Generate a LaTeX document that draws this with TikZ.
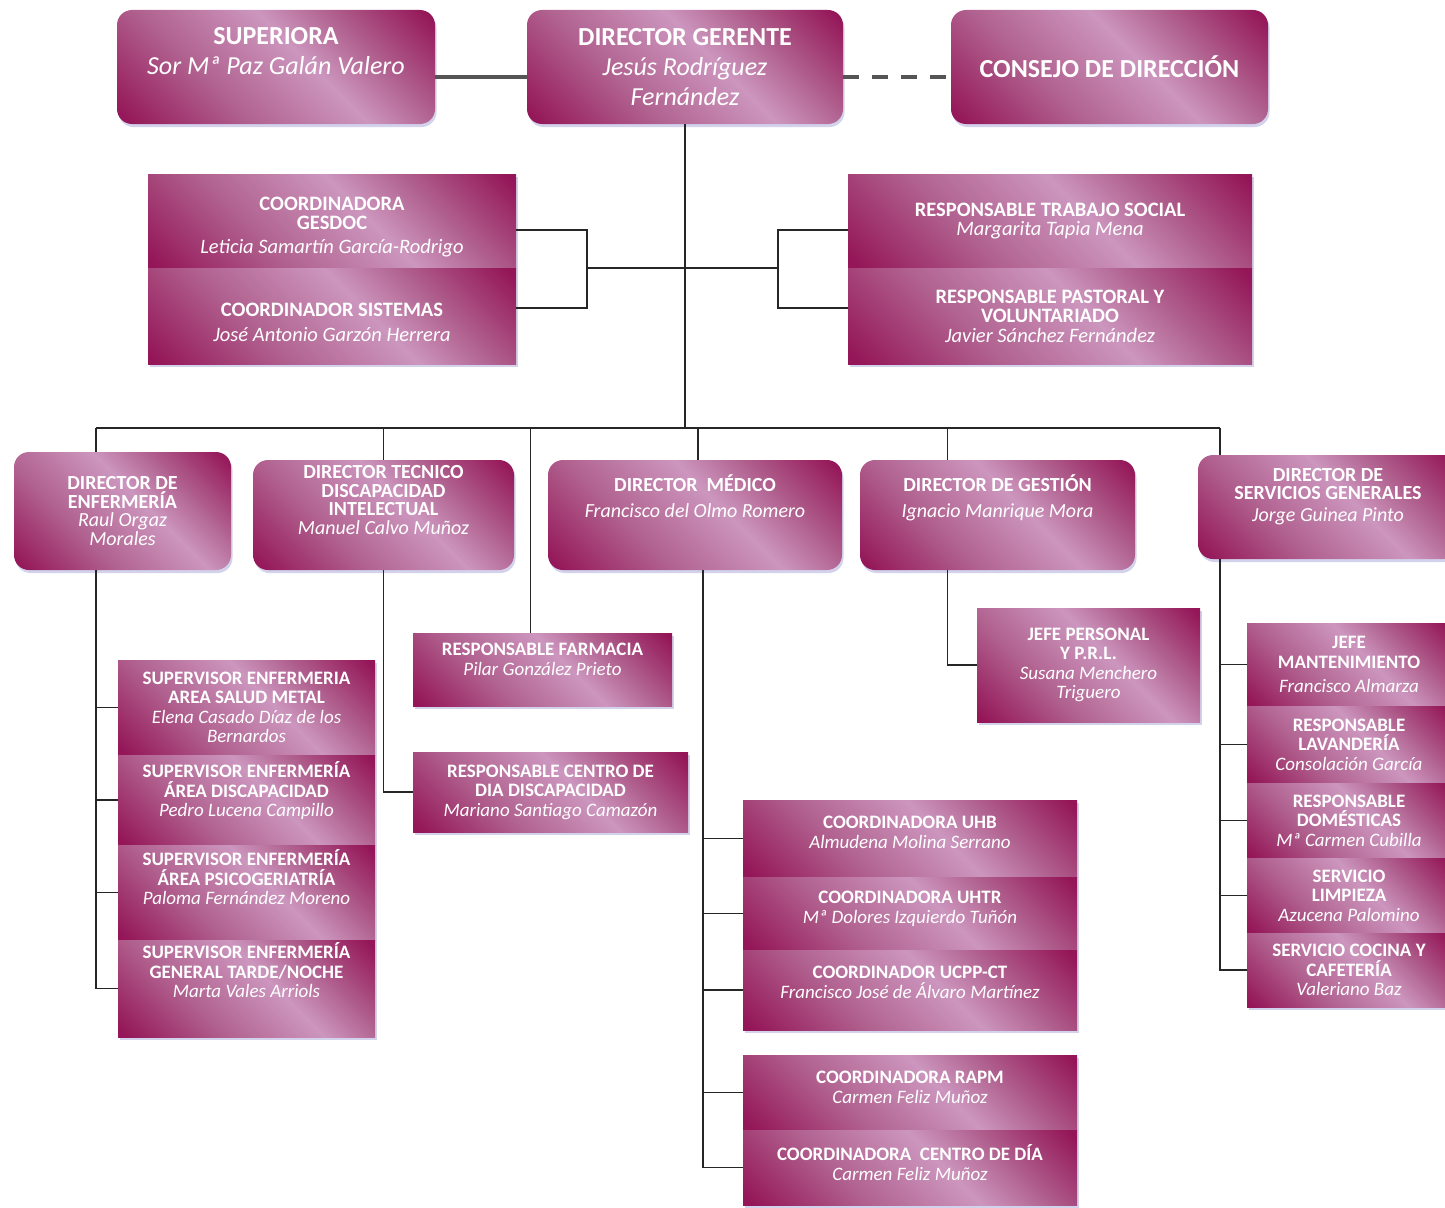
\documentclass[tikz,border=0pt]{standalone}
\usepackage{fontspec}
\setmainfont{Carlito}
\usepackage{tikz}
\usetikzlibrary{positioning,shadows,shapes,fit}

\definecolor{plumdark}{RGB}{148,22,88}
\definecolor{plummid}{RGB}{176,96,142}
\definecolor{plumlight}{RGB}{204,150,190}
\definecolor{linegray}{RGB}{85,85,85}

\pgfdeclareverticalshading{plumglow}{100bp}{color(0bp)=(plumdark); color(16bp)=(plumdark); color(36bp)=(plummid); color(56bp)=(plumlight); color(68bp)=(plummid); color(84bp)=(plumdark); color(100bp)=(plumdark)}

\tikzset {
    style A/.style={
        shade,
        shading=plumglow,
        shading angle=-45,
        drop shadow={shadow xshift=1.5pt, shadow yshift=-3pt, fill=black!40!blue!35, opacity=.5},
        text=white,
        rectangle, % Set the shape as a rectangle
        rounded corners=15pt,
        inner sep=0pt,
        align=center,
        font=\fontsize{26}{30}\selectfont,
    },
    style B/.style={
        shade,
        shading=plumglow,
        shading angle=-45,
        drop shadow={shadow xshift=1.5pt, shadow yshift=-3pt, fill=black!40!blue!35, opacity=.5},
        text=white,
        rectangle, % Set the shape as a rectangle
        inner sep=0pt,
        align=center,
        font=\fontsize{20.5}{19.5}\selectfont,
    },
    style C/.style={
        style A,
        font=\fontsize{20}{18.5}\selectfont,
    },
    style D/.style={
        style B,
        font=\fontsize{19}{19.5}\selectfont,
    },
    link/.style={draw=black!85, line width=1.6pt},
    top link/.style={draw=linegray, line width=3.5pt},
}

\begin{document}
\begin{tikzpicture}[x=1pt, y=-1pt]
    \useasboundingbox (0,0) rectangle (1445,1207);

    % top row
    \node[style A, minimum width=318, minimum height=114, text depth=33pt] (sup) at (276,67)
        {\textbf{SUPERIORA}\\ \textit{Sor Mª Paz Galán Valero}};
    \node[style A, minimum width=316, minimum height=114] (dg) at (685,67)
        {\textbf{DIRECTOR GERENTE}\\ \textit{Jesús Rodríguez}\\ \textit{Fernández}};
    \node[style A, minimum width=317, minimum height=114] (cons) at (1109.5,67)
        {\textbf{CONSEJO DE DIRECCIÓN}};

    % staff
    \node[style B, minimum width=368, minimum height=94, text height=64pt, text depth=0pt] (gesdoc) at (332,221)
        {\textbf{COORDINADORA}\\ \textbf{GESDOC}\\[4pt] \textit{Leticia Samartín García-Rodrigo}};
    \node[style B, minimum width=368, minimum height=96, text height=50pt, text depth=0pt] (sist) at (332,316)
        {\textbf{COORDINADOR SISTEMAS}\\[5pt] \textit{José Antonio Garzón Herrera}};
    \node[style B, minimum width=404, minimum height=94] (tsoc) at (1050,221)
        {\textbf{RESPONSABLE TRABAJO SOCIAL}\\ \textit{Margarita Tapia Mena}};
    \node[style B, minimum width=404, minimum height=96] (past) at (1050,316)
        {\textbf{RESPONSABLE PASTORAL Y}\\ \textbf{VOLUNTARIADO}\\ \textit{Javier Sánchez Fernández}};

    % directors
    \node[style C, minimum width=217, minimum height=118] (denf) at (122.5,511)
        {\textbf{DIRECTOR DE}\\ \textbf{ENFERMERÍA}\\ \textit{Raul Orgaz}\\ \textit{Morales}};
    \node[style C, minimum width=261, minimum height=110, text depth=30pt] (dtec) at (383.5,515)
        {\textbf{DIRECTOR TECNICO}\\ \textbf{DISCAPACIDAD}\\ \textbf{INTELECTUAL}\\ \textit{Manuel Calvo Muñoz}};
    \node[style C, minimum width=294, minimum height=110, text depth=38pt] (dmed) at (695,515)
        {\textbf{DIRECTOR\ \ MÉDICO}\\[8pt] \textit{Francisco del Olmo Romero}};
    \node[style C, minimum width=275, minimum height=110, text depth=38pt] (dges) at (997.5,515)
        {\textbf{DIRECTOR DE GESTIÓN}\\[8pt] \textit{Ignacio Manrique Mora}};
    \node[style C, minimum width=260, minimum height=104, text depth=25pt] (dsg) at (1328,507)
        {\textbf{DIRECTOR DE}\\ \textbf{SERVICIOS GENERALES}\\[3pt] \textit{Jorge Guinea Pinto}};

    % nursing
    \node[style D, minimum width=257, minimum height=95] (se1) at (246.5,707.5)
        {\textbf{SUPERVISOR ENFERMERIA}\\ \textbf{AREA SALUD METAL}\\ \textit{Elena Casado Díaz de los}\\ \textit{Bernardos}};
    \node[style D, minimum width=257, minimum height=90, text depth=21pt] (se2) at (246.5,800)
        {\textbf{SUPERVISOR ENFERMERÍA}\\ \textbf{ÁREA DISCAPACIDAD}\\ \textit{Pedro Lucena Campillo}};
    \node[style D, minimum width=257, minimum height=95, text depth=30pt] (se3) at (246.5,892.5)
        {\textbf{SUPERVISOR ENFERMERÍA}\\ \textbf{ÁREA PSICOGERIATRÍA}\\ \textit{Paloma Fernández Moreno}};
    \node[style D, minimum width=257, minimum height=97, text depth=36pt] (se4) at (246.5,988.5)
        {\textbf{SUPERVISOR ENFERMERÍA}\\ \textbf{GENERAL TARDE/NOCHE}\\ \textit{Marta Vales Arriols}};

    % disability / pharmacy
    \node[style D, minimum width=259, minimum height=73, text depth=20pt] (farm) at (542.5,669.5)
        {\textbf{RESPONSABLE FARMACIA}\\ \textit{Pilar González Prieto}};
    \node[style D, minimum width=275, minimum height=80] (cdisc) at (550.5,792)
        {\textbf{RESPONSABLE CENTRO DE}\\ \textbf{DIA DISCAPACIDAD}\\ \textit{Mariano Santiago Camazón}};

    % medical
    \node[style D, minimum width=334, minimum height=77, text depth=12pt] (uhb) at (910,838.5)
        {\textbf{COORDINADORA UHB}\\ \textit{Almudena Molina Serrano}};
    \node[style D, minimum width=334, minimum height=73, text depth=12pt] (uhtr) at (910,913.5)
        {\textbf{COORDINADORA UHTR}\\ \textit{Mª Dolores Izquierdo Tuñón}};
    \node[style D, minimum width=334, minimum height=80, text depth=15pt] (ucpp) at (910,990)
        {\textbf{COORDINADOR UCPP-CT}\\ \textit{Francisco José de Álvaro Martínez}};
    \node[style D, minimum width=334, minimum height=75, text depth=10pt] (rapm) at (910,1092.5)
        {\textbf{COORDINADORA RAPM}\\ \textit{Carmen Feliz Muñoz}};
    \node[style D, minimum width=334, minimum height=75, text depth=10pt] (cdia) at (910,1167.5)
        {\textbf{COORDINADORA\ \ CENTRO DE DÍA}\\ \textit{Carmen Feliz Muñoz}};

    % management
    \node[style D, minimum width=223, minimum height=114] (jper) at (1088.5,665)
        {\textbf{JEFE PERSONAL}\\ \textbf{Y P.R.L.}\\ \textit{Susana Menchero}\\ \textit{Triguero}};

    % general services
    \node[style D, minimum width=204, minimum height=83] (mant) at (1349,664.5)
        {\textbf{JEFE}\\ \textbf{MANTENIMIENTO}\\[5pt] \textit{Francisco Almarza}};
    \node[style D, minimum width=204, minimum height=77] (lav) at (1349,744.5)
        {\textbf{RESPONSABLE}\\ \textbf{LAVANDERÍA}\\ \textit{Consolación García}};
    \node[style D, minimum width=204, minimum height=75] (dom) at (1349,820.5)
        {\textbf{RESPONSABLE}\\ \textbf{DOMÉSTICAS}\\ \textit{Mª Carmen Cubilla}};
    \node[style D, minimum width=204, minimum height=75] (limp) at (1349,895.5)
        {\textbf{SERVICIO}\\ \textbf{LIMPIEZA}\\ \textit{Azucena Palomino}};
    \node[style D, minimum width=204, minimum height=74] (coc) at (1349,970)
        {\textbf{SERVICIO COCINA Y}\\ \textbf{CAFETERÍA}\\ \textit{Valeriano Baz}};

    % junctions
    \coordinate (lj) at (587,268);
    \coordinate (rj) at (778,268);
    \coordinate (busl) at (96,428);
    \coordinate (busr) at (1220,428);
    \coordinate (mv) at ([xshift=8pt]dmed.south);
    \coordinate (gv) at ([xshift=-50pt]dges.south);

    % connectors
    \draw[top link] ([yshift=-10pt]sup.east) -- ([yshift=-10pt]dg.west);
    \draw[top link, dash pattern=on 16pt off 13pt] ([yshift=-10pt]dg.east) -- ([yshift=-10pt]cons.west);
    \draw[link] (dg.south) -- (dg.south |- busl);
    \draw[link] ([yshift=-9pt]gesdoc.east) -| (lj) |- ([yshift=8pt]sist.east);
    \draw[link] ([yshift=-9pt]tsoc.west) -| (rj) |- ([yshift=8pt]past.west);
    \draw[link] (lj) -- (rj);
    \draw[link] (busl) -- (busr);
    \draw[link] (denf.north -| busl) -- (busl);
    \draw[link] (dtec.north) -- (dtec.north |- busl);
    \draw[link] ([xshift=-12pt]farm.north) -- ([xshift=-12pt]farm.north |- busl);
    \draw[link] ([xshift=3pt]dmed.north) -- ([xshift=3pt]dmed.north |- busl);
    \draw[link] (gv |- dges.north) -- (gv |- busl);
    \draw[link] (dsg.north -| busr) -- (busr);

    \draw[link] (denf.south -| busl) |- (se4.west);
    \foreach \s in {se1,se2,se3}
        \draw[link] (\s.west) -- (\s.west -| busl);
    \draw[link] (dtec.south) |- (cdisc.west);
    \draw[link] (mv) |- (cdia.west);
    \foreach \s in {uhb,uhtr,ucpp,rapm}
        \draw[link] (\s.west) -- (\s.west -| mv);
    \draw[link] (gv) |- (jper.west);
    \draw[link] (dsg.south -| busr) |- (coc.west);
    \foreach \s in {mant,lav,dom,limp}
        \draw[link] (\s.west) -- (\s.west -| busr);

\end{tikzpicture}
\end{document}
